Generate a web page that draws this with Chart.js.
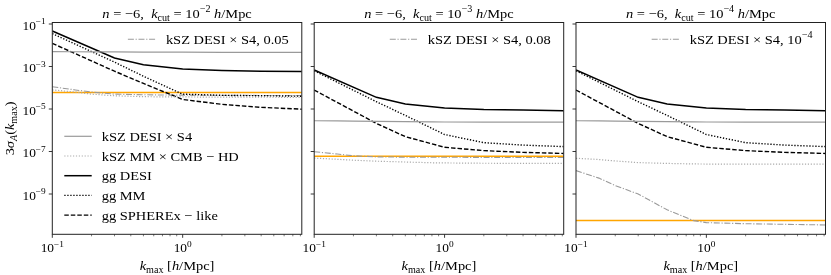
<!DOCTYPE html>
<html>
<head>
<meta charset="utf-8">
<script src="https://cdn.jsdelivr.net/npm/chart.js@4.4.0/dist/chart.umd.min.js"></script>
<style>
  html, body { margin: 0; padding: 0; background: #fff; }
  #wrap { position: relative; width: 831px; height: 275px; }
  #wrap canvas { position: absolute; left: 0; top: 0; }
</style>
</head>
<body>
<div id="wrap">
  <canvas id="panel0" width="831" height="275"></canvas>
  <canvas id="panel1" width="831" height="275"></canvas>
  <canvas id="panel2" width="831" height="275"></canvas>
</div>
<script>
// --- data ---
const kGG  = [0.1, 0.3, 0.5, 1.0, 2.0, 4.0, 8.2];
const kKSZ = [0.1, 0.15, 0.2, 0.3, 0.5, 0.8, 1.0, 2.0, 8.2];
const xRange = [0.1, 8.2];
const yRange = [1.27e-11, 0.1177];
const xMajorTicks = [0.1, 1];
const xMinorTicks = [0.2, 0.3, 0.4, 0.5, 0.6, 0.7, 0.8, 0.9, 2, 3, 4, 5, 6, 7, 8];
const yMajorTicks = [1e-1, 1e-3, 1e-5, 1e-7, 1e-9];
const xTickExp = ['−1', '0'];
const yTickExp = ['−1', '−3', '−5', '−7', '−9'];

// k_cut = 1e-2
const ggDESI_2 = [4.7e-2, 2.5e-3, 1.2e-3, 7.6e-4, 6.5e-4, 6.0e-4, 5.8e-4];
const ggMM_2   = [3.5e-2, 1.6e-3, 3.5e-4, 5.0e-5, 4.4e-5, 4.2e-5, 4.0e-5];
const ggSPX_2  = [1.23e-2, 6.0e-4, 1.6e-4, 2.8e-5, 1.66e-5, 1.2e-5, 9.8e-6];
const kszS4_2  = [5.0e-3, 4.95e-3, 4.9e-3, 4.85e-3, 4.8e-3, 4.75e-3, 4.7e-3, 4.65e-3, 4.6e-3];
const kszMM_2  = [7.9e-5, 6.3e-5, 5.0e-5, 4.2e-5, 3.8e-5, 3.7e-5, 3.7e-5, 3.6e-5, 3.55e-5];
const kszDD_2  = [1.12e-4, 7.9e-5, 6.3e-5, 5.0e-5, 4.7e-5, 4.5e-5, 4.5e-5, 4.4e-5, 4.3e-5];

// k_cut = 1e-3
const ggDESI_3 = [6.9e-4, 3.55e-5, 1.74e-5, 1.12e-5, 9.5e-6, 8.9e-6, 8.3e-6];
const ggMM_3   = [6.3e-4, 2.2e-5, 5.0e-6, 6.3e-7, 2.6e-7, 2.0e-7, 1.7e-7];
const ggSPX_3  = [7.8e-5, 2.1e-6, 5.0e-7, 1.58e-7, 1.1e-7, 9.1e-8, 8.1e-8];
const kszS4_3  = [2.8e-6, 2.75e-6, 2.7e-6, 2.6e-6, 2.55e-6, 2.5e-6, 2.45e-6, 2.42e-6, 2.4e-6];
const kszMM_3  = [4.9e-8, 4.3e-8, 3.9e-8, 3.5e-8, 3.2e-8, 2.95e-8, 2.9e-8, 2.8e-8, 2.75e-8];
const kszDD_3  = [9.8e-8, 7.6e-8, 6.3e-8, 5.6e-8, 5.4e-8, 5.4e-8, 5.4e-8, 5.25e-8, 5.25e-8];

// k_cut = 1e-4
const ggDESI_4 = [6.9e-4, 3.55e-5, 1.74e-5, 1.12e-5, 9.5e-6, 8.9e-6, 8.3e-6];
const ggMM_4   = [6.3e-4, 2.2e-5, 5.0e-6, 6.3e-7, 2.6e-7, 2.0e-7, 1.7e-7];
const ggSPX_4  = [7.8e-5, 2.1e-6, 5.0e-7, 1.58e-7, 1.1e-7, 9.1e-8, 8.1e-8];
const kszS4_4  = [2.8e-6, 2.75e-6, 2.7e-6, 2.6e-6, 2.55e-6, 2.5e-6, 2.45e-6, 2.42e-6, 2.4e-6];
const kszMM_4  = [4.8e-8, 4.2e-8, 3.6e-8, 3.0e-8, 2.75e-8, 2.6e-8, 2.57e-8, 2.57e-8, 2.57e-8];
const kszDD_4  = [1.26e-8, 5.6e-9, 2.5e-9, 1.0e-9, 1.8e-10, 5.6e-11, 4.5e-11, 4.0e-11, 3.5e-11];

// orange reference level per panel
const refLevel = [6.0e-5, 6.0e-8, 5.6e-11];

const kcutExp = ['−2', '−3', '−4'];
const ddTags = [[['0.05', 'r']], [['0.08', 'r']], [['10', 'r'], ['−4', 'sp']]];
const legendLabels = ['kSZ DESI × S4', 'kSZ MM × CMB − HD', 'gg DESI', 'gg MM', 'gg SPHEREx − like'];

// --- layout ---
const W = 831, H = 275;
const PANEL_LEFT = [52.3, 314.2, 576.0];
const PANEL_W = 249.5;
const PLOT_TOP = 22.5, PLOT_BOTTOM = 234.3;
const FONT = '"Liberation Serif", "Times New Roman", serif';
const STRETCH = 1.07;

const styles = {
  kszS4:  { color: '#9a9a9a', width: 1.2, dash: [] },
  kszMM:  { color: '#ababab', width: 1.2, dash: [1.2, 1.7] },
  ggDESI: { color: '#000000', width: 1.5, dash: [] },
  ggMM:   { color: '#000000', width: 1.4, dash: [1.3, 1.7] },
  ggSPX:  { color: '#000000', width: 1.4, dash: [4.5, 2] },
  kszDD:  { color: '#9a9a9a', width: 1.1, dash: [6, 1.7, 1.2, 1.7] },
  ref:    { color: '#ffa500', width: 1.5, dash: [] }
};

const panelData = [
  { ggDESI: ggDESI_2, ggMM: ggMM_2, ggSPX: ggSPX_2, kszS4: kszS4_2, kszMM: kszMM_2, kszDD: kszDD_2 },
  { ggDESI: ggDESI_3, ggMM: ggMM_3, ggSPX: ggSPX_3, kszS4: kszS4_3, kszMM: kszMM_3, kszDD: kszDD_3 },
  { ggDESI: ggDESI_4, ggMM: ggMM_4, ggSPX: ggSPX_4, kszS4: kszS4_4, kszMM: kszMM_4, kszDD: kszDD_4 }
];

// rich text: parts = [[text, kind]], kind r=roman i=italic sb=sub sbi=italic sub sp=sup
function drawRich(ctx, parts, x, y, size, align) {
  let total = 0;
  const segs = parts.map(([t, k]) => {
    const small = k === 'sb' || k === 'sbi' || k === 'sp';
    const s = small ? size * 0.7 : size;
    const f = ((k === 'i' || k === 'sbi') ? 'italic ' : '') + s + 'px ' + FONT;
    ctx.font = f;
    const w = ctx.measureText(t).width * STRETCH;
    const dy = (k === 'sb' || k === 'sbi') ? size * 0.24 : (k === 'sp' ? -size * 0.42 : 0);
    total += w;
    return { t, f, w, dy };
  });
  let cx = align === 'center' ? x - total / 2 : (align === 'right' ? x - total : x);
  ctx.textAlign = 'left';
  ctx.textBaseline = 'alphabetic';
  segs.forEach(s => {
    ctx.save();
    ctx.font = s.f;
    ctx.translate(cx, y + s.dy);
    ctx.scale(STRETCH, 1);
    ctx.fillText(s.t, 0, 0);
    ctx.restore();
    cx += s.w;
  });
  return total;
}

function strokeSample(ctx, st, x0, x1, y) {
  ctx.save();
  ctx.strokeStyle = st.color;
  ctx.lineWidth = st.width;
  ctx.setLineDash(st.dash);
  ctx.beginPath();
  ctx.moveTo(x0, y);
  ctx.lineTo(x1, y);
  ctx.stroke();
  ctx.restore();
}

function series(xs, ys, st) {
  return {
    data: xs.map((x, i) => ({ x: x, y: ys[i] })),
    borderColor: st.color,
    borderWidth: st.width,
    borderDash: st.dash,
    pointRadius: 0,
    fill: false,
    tension: 0
  };
}

function decor(idx) {
  return {
    id: 'decor' + idx,
    afterDraw(chart) {
      const ctx = chart.ctx;
      const xs = chart.scales.x, ys = chart.scales.y;
      const a = chart.chartArea;
      ctx.save();
      ctx.fillStyle = '#000';
      ctx.strokeStyle = '#222';

      // frame
      ctx.lineWidth = 1;
      ctx.setLineDash([]);
      ctx.strokeRect(a.left, a.top, a.right - a.left, a.bottom - a.top);

      // x ticks
      ctx.lineWidth = 0.9;
      xMajorTicks.forEach((v, i) => {
        const px = xs.getPixelForValue(v);
        ctx.beginPath(); ctx.moveTo(px, a.bottom); ctx.lineTo(px, a.bottom + 3.5); ctx.stroke();
        drawRich(ctx, [['10', 'r'], [xTickExp[i], 'sp']], px, a.bottom + 17.5, 12.5, 'center');
      });
      ctx.lineWidth = 0.6;
      xMinorTicks.forEach(v => {
        const px = xs.getPixelForValue(v);
        ctx.beginPath(); ctx.moveTo(px, a.bottom); ctx.lineTo(px, a.bottom + 2); ctx.stroke();
      });

      // y ticks
      ctx.lineWidth = 0.9;
      yMajorTicks.forEach((v, i) => {
        const py = ys.getPixelForValue(v);
        ctx.beginPath(); ctx.moveTo(a.left - 3.5, py); ctx.lineTo(a.left, py); ctx.stroke();
        if (idx === 0) {
          drawRich(ctx, [['10', 'r'], [yTickExp[i], 'sp']], a.left - 6.5, py + 5.5, 12.5, 'right');
        }
      });

      const cxm = (a.left + a.right) / 2;
      // title
      drawRich(ctx, [['n', 'i'], [' = −6,  ', 'r'], ['k', 'i'], ['cut', 'sb'],
        [' = 10', 'r'], [kcutExp[idx], 'sp'], [' ', 'r'], ['h', 'i'], ['/Mpc', 'r']],
        cxm, 17.5, 13.5, 'center');

      // x label
      drawRich(ctx, [['k', 'i'], ['max', 'sb'], [' [', 'r'], ['h', 'i'], ['/Mpc]', 'r']],
        cxm, 270, 13.5, 'center');

      // y label
      if (idx === 0) {
        ctx.save();
        ctx.translate(13.5, (a.top + a.bottom) / 2);
        ctx.rotate(-Math.PI / 2);
        drawRich(ctx, [['3', 'r'], ['σ', 'i'], ['A', 'sbi'], ['(', 'r'], ['k', 'i'], ['max', 'sb'], [')', 'r']],
          0, 0, 13.5, 'center');
        ctx.restore();
      }

      // upper-right legend (dash-dot)
      ctx.font = '13.5px ' + FONT;
      const tagParts = [['kSZ DESI × S4, ', 'r']].concat(ddTags[idx]);
      let tw = 0;
      tagParts.forEach(([t, k]) => {
        ctx.font = (k === 'sp' ? 13.5 * 0.7 : 13.5) + 'px ' + FONT;
        tw += ctx.measureText(t).width * STRETCH;
      });
      const ly = a.top + 16.8;
      const tx = a.right - 13 - tw;
      strokeSample(ctx, styles.kszDD, tx - 38, tx - 10, ly);
      ctx.fillStyle = '#000';
      drawRich(ctx, tagParts, tx, ly + 4.6, 13.5, 'left');

      // main legend
      if (idx === 0) {
        const keys = ['kszS4', 'kszMM', 'ggDESI', 'ggMM', 'ggSPX'];
        keys.forEach((key, i) => {
          const y = a.top + 113.8 + i * 19.7;
          strokeSample(ctx, styles[key], a.left + 12, a.left + 39.4, y);
          ctx.fillStyle = '#000';
          drawRich(ctx, [[legendLabels[i], 'r']], a.left + 49.4, y + 4.6, 13.5, 'left');
        });
      }
      ctx.restore();
    }
  };
}

function makePanel(idx) {
  const d = panelData[idx];
  const left = PANEL_LEFT[idx];
  return new Chart(document.getElementById('panel' + idx), {
    type: 'line',
    data: {
      datasets: [
        series(kKSZ, d.kszS4, styles.kszS4),
        series(kKSZ, d.kszMM, styles.kszMM),
        series(kGG, d.ggDESI, styles.ggDESI),
        series(kGG, d.ggMM, styles.ggMM),
        series(kGG, d.ggSPX, styles.ggSPX),
        series(kKSZ, d.kszDD, styles.kszDD),
        series(xRange, [refLevel[idx], refLevel[idx]], styles.ref)
      ]
    },
    options: {
      responsive: false,
      animation: false,
      devicePixelRatio: 1,
      events: [],
      layout: {
        padding: { left: left, right: W - left - PANEL_W, top: PLOT_TOP, bottom: H - PLOT_BOTTOM }
      },
      plugins: { legend: { display: false }, tooltip: { enabled: false } },
      scales: {
        x: { type: 'logarithmic', display: false, min: xRange[0], max: xRange[1] },
        y: { type: 'logarithmic', display: false, min: yRange[0], max: yRange[1] }
      }
    },
    plugins: [decor(idx)]
  });
}

[0, 1, 2].forEach(makePanel);
</script>
</body>
</html>
